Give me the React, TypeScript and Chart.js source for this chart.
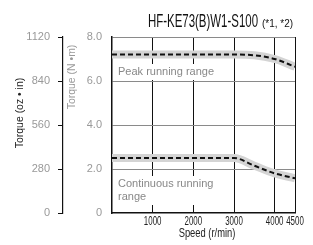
import React, { useEffect, useRef } from "react";
import { Chart, registerables } from "chart.js";

Chart.register(...registerables);

const speeds = [0, 1000, 2000, 3000, 3500, 4000, 4500];
const peakTorque = [7.2, 7.2, 7.2, 7.2, 7.17, 7.0, 6.65];
const contTorque = [2.5, 2.5, 2.5, 2.5, 2.15, 1.8, 1.58];
const xTicks = [1000, 2000, 3000, 4000, 4500];
const nmTicks = [0, 2, 4, 6, 8];
const ozTicks = [0, 280, 560, 840, 1120];

const titleText = "HF-KE73(B)W1-S100";
const noteText = "(*1, *2)";
const xTitle = "Speed (r/min)";
const ozTitle = "Torque (oz \u2022 in)";
const nmTitle = "Torque (N \u2022m)";
const peakLabel = "Peak running range";
const contLabel = ["Continuous running", "range"];

const FONT = '"Liberation Sans", Arial, sans-serif';

function fillScaled(ctx: any, text: string, x: number, y: number, sx: number, align: string) {
  ctx.save();
  ctx.translate(x, y);
  ctx.scale(sx, 1);
  ctx.textAlign = align;
  ctx.fillText(text, 0, 0);
  ctx.restore();
}

const textPlugin = {
  id: "textPlugin",
  afterDraw(chart: any) {
    const ctx = chart.ctx;
    const area = chart.chartArea;
    ctx.save();
    // title (condensed face)
    ctx.fillStyle = "#111";
    ctx.textBaseline = "alphabetic";
    ctx.font = `18px ${FONT}`;
    const tw = ctx.measureText(titleText).width;
    fillScaled(ctx, titleText, 148, 27, 110 / tw, "left");
    ctx.font = `10px ${FONT}`;
    const nw = ctx.measureText(noteText).width;
    fillScaled(ctx, noteText, 262, 27, 31 / nw, "left");

    // x tick labels, positioned by the x scale
    const xs = chart.scales.x;
    ctx.font = `12px ${FONT}`;
    ctx.fillStyle = "#222";
    ctx.textBaseline = "middle";
    xTicks.forEach((v) => {
      fillScaled(ctx, String(v), xs.getPixelForValue(v), 222, 0.66, "center");
    });

    // range labels with white background
    ctx.textBaseline = "alphabetic";
    ctx.font = `11px ${FONT}`;
    const drawBoxed = (lines: string[], x: number, y: number) => {
      const lh = 13;
      let w = 0;
      lines.forEach((l) => (w = Math.max(w, ctx.measureText(l).width)));
      ctx.fillStyle = "#fff";
      ctx.fillRect(x - 4, y - 11, w + 8, lh * lines.length + 3);
      ctx.fillStyle = "#888";
      lines.forEach((l, i) => fillScaled(ctx, l, x, y + i * lh, 1, "left"));
    };
    drawBoxed([peakLabel], area.left + 6, 75);
    drawBoxed(contLabel, area.left + 6, 187);

    // axis titles
    ctx.textBaseline = "middle";
    ctx.fillStyle = "#222";
    ctx.font = `12px ${FONT}`;
    fillScaled(ctx, xTitle, 207, 234, 0.78, "center");

    ctx.font = `11px ${FONT}`;
    ctx.save();
    ctx.translate(20, 113);
    ctx.rotate(-Math.PI / 2);
    fillScaled(ctx, ozTitle, 0, 0, 0.95, "center");
    ctx.restore();

    ctx.save();
    ctx.translate(72, 77);
    ctx.rotate(-Math.PI / 2);
    ctx.fillStyle = "#999";
    fillScaled(ctx, nmTitle, 0, 0, 0.95, "center");
    ctx.restore();

    ctx.restore();
  },
};

export default function App() {
  const ref = useRef<HTMLCanvasElement>(null);
  useEffect(() => {
    if (!ref.current) return;
    const mk = (vals: number[]) => speeds.map((s, i) => ({ x: s, y: vals[i] }));
    const line = (vals: number[]) => ({
      data: mk(vals),
      borderColor: "#111",
      borderWidth: 2,
      borderDash: [5, 3],
      pointRadius: 0,
      cubicInterpolationMode: "monotone",
      order: 1,
      yAxisID: "y",
    });
    const band = (vals: number[]) => ({
      data: mk(vals),
      borderColor: "#d4d4d4",
      borderWidth: 8,
      pointRadius: 0,
      cubicInterpolationMode: "monotone",
      order: 2,
      yAxisID: "y",
    });
    const chart = new Chart(ref.current, {
      type: "line",
      data: {
        datasets: [line(peakTorque), line(contTorque), band(peakTorque), band(contTorque)],
      } as any,
      options: {
        animation: false,
        responsive: false,
        maintainAspectRatio: false,
        layout: { padding: { top: 37, right: 18, left: 0, bottom: 0 } },
        plugins: {
          legend: { display: false },
          tooltip: { enabled: false },
          title: { display: false },
        },
        scales: {
          x: {
            type: "linear",
            min: 0,
            max: 4500,
            afterBuildTicks: (s: any) => {
              s.ticks = xTicks.map((v) => ({ value: v }));
            },
            afterFit: (s: any) => {
              s.height = 32;
            },
            grid: { color: "#111", lineWidth: 1, drawTicks: false },
            border: { color: "#111", width: 1.5 },
            ticks: { display: false },
          },
          y: {
            type: "linear",
            position: "left",
            min: 0,
            max: 8,
            weight: 0,
            afterBuildTicks: (s: any) => {
              s.ticks = nmTicks.map((v) => ({ value: v }));
            },
            afterFit: (s: any) => {
              s.width = 49;
            },
            grid: {
              color: (c: any) => (c.tick && c.tick.value === 0 ? "rgba(0,0,0,0)" : "#8a8a8a"),
              lineWidth: 1,
              drawTicks: false,
            },
            border: { color: "#111", width: 1.5 },
            ticks: {
              color: "#999",
              font: { family: FONT, size: 11 },
              padding: 10,
              callback: (v: any) => (v === 0 ? "0" : Number(v).toFixed(1)),
            },
          },
          y2: {
            type: "linear",
            position: "left",
            min: 0,
            max: 1120,
            weight: 1,
            afterBuildTicks: (s: any) => {
              s.ticks = ozTicks.map((v) => ({ value: v }));
            },
            afterFit: (s: any) => {
              s.width = 63;
            },
            grid: { drawOnChartArea: false, drawTicks: true, tickLength: 5, color: "#111" },
            border: { color: "#111", width: 1.2 },
            ticks: {
              color: "#999",
              font: { family: FONT, size: 11 },
              padding: 8,
              callback: (v: any) => String(v),
            },
          },
        },
      } as any,
      plugins: [textPlugin],
    });
    return () => chart.destroy();
  }, []);
  return (
    <div style={{ position: "fixed", left: 0, top: 0, width: 313, height: 245, background: "#fff" }}>
      <canvas ref={ref} width={313} height={245} style={{ display: "block", width: 313, height: 245 }} />
    </div>
  );
}
